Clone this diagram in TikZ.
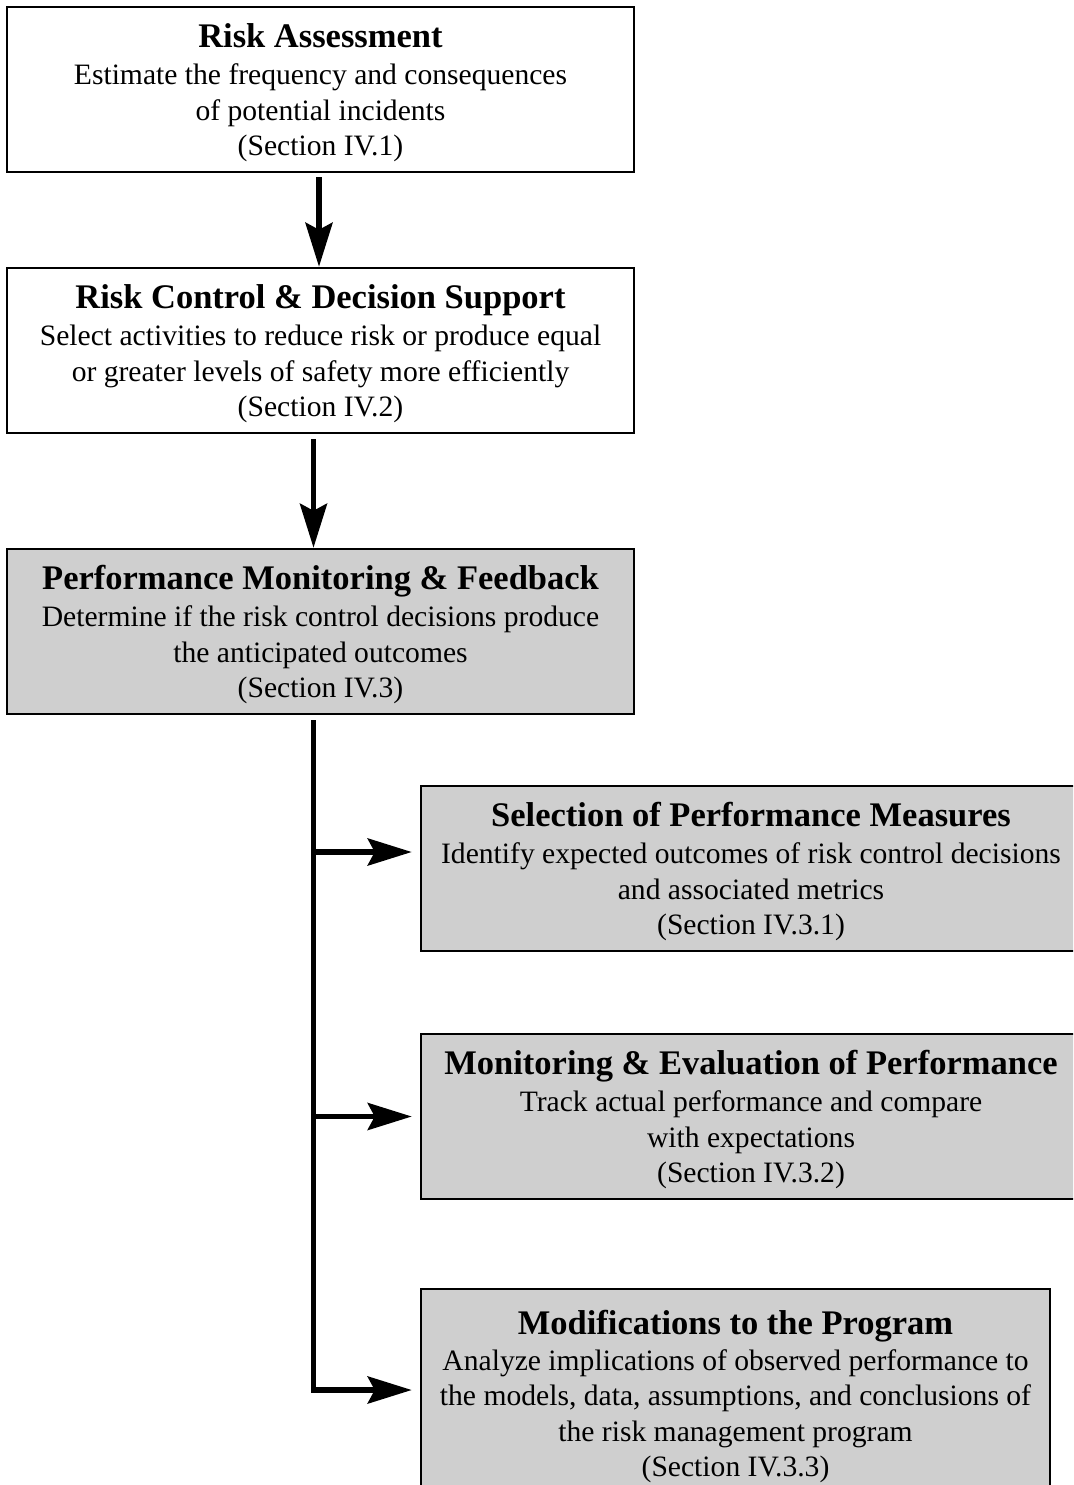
\documentclass[tikz,border=0pt]{standalone}
\usepackage{fontspec}
\setmainfont{Liberation Serif}
\usepackage{tikz}
\usepackage{xcolor}
\usetikzlibrary{arrows.meta, positioning}

\definecolor{boxgray}{RGB}{207,207,207}
\newcommand{\bodyfont}{\fontsize{29.6pt}{35.5pt}\selectfont}
\newcommand{\titlefont}{\fontsize{34.5pt}{35.5pt}\selectfont\bfseries}
\newcommand{\stagetitle}[1]{\rule{0pt}{30pt}{\titlefont #1}\\[2pt]}

\tikzset{
  stage/.style={draw, line width=2.5pt, fill=white, align=center, inner sep=0pt,
    minimum width=627pt, minimum height=165pt, font=\bodyfont},
  substage/.style={stage, fill=boxgray, minimum width=660pt},
  flow/.style={line width=5.5pt, -{Stealth[length=44pt, width=27pt, inset=7pt]}},
}

\begin{document}
\begin{tikzpicture}[x=1pt, y=-1pt]
\useasboundingbox (0,0) rectangle (1073,1485);
\clip (0,0) rectangle (1073,1485);

\node[stage] (assess) at (320.5,89.5) {\stagetitle{Risk Assessment}
  Estimate the frequency and consequences\\ of potential incidents\\ (Section IV.1)};
\node[stage, below=93.5pt of assess] (control) {\stagetitle{Risk Control \& Decision Support}
  Select activities to reduce risk or produce equal\\ or greater levels of safety more efficiently\\ (Section IV.2)};
\node[stage, fill=boxgray, below=113.5pt of control] (monitor) {\stagetitle{Performance Monitoring \& Feedback}
  Determine if the risk control decisions produce\\ the anticipated outcomes\\ (Section IV.3)};

\node[substage] (select) at (751,868.5) {\stagetitle{Selection of Performance Measures}
  Identify expected outcomes of risk control decisions\\ and associated metrics\\ (Section IV.3.1)};
\node[substage, below=80.5pt of select] (evaluate) {\stagetitle{Monitoring \& Evaluation of Performance}
  Track actual performance and compare\\ with expectations\\ (Section IV.3.2)};
\node[substage, minimum width=629pt, minimum height=215pt,
  below=87.5pt of evaluate.south west, anchor=north west] (modify) {{\titlefont Modifications to the Program}\\
  Analyze implications of observed performance to\\ the models, data, assumptions, and conclusions of\\
  the risk management program\\ (Section IV.3.3)};

\draw[flow, shorten <=4pt] ([xshift=-1.5pt]assess.south) -- ([xshift=-1.5pt]control.north);
\draw[flow, shorten <=5pt] ([xshift=-7pt]control.south) -- ([xshift=-7pt]monitor.north);

% branch to the three sub-steps
\coordinate (trunk) at ([xshift=-7pt]monitor.south);
\coordinate (in1) at ([yshift=16.5pt]select.west);
\coordinate (in2) at (evaluate.west);
\coordinate (in3) at ([yshift=6.5pt]modify.west);
\draw[flow, shorten <=5pt, shorten >=8pt] (trunk) |- (in3);
\draw[flow, shorten >=8pt] (in1 -| trunk) -- (in1);
\draw[flow, shorten >=8pt] (in2 -| trunk) -- (in2);
\end{tikzpicture}
\end{document}
